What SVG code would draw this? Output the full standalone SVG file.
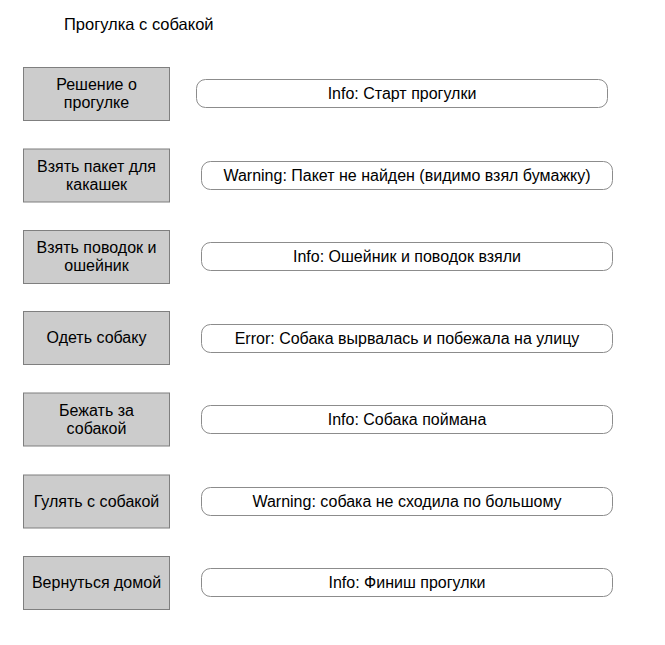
<svg xmlns="http://www.w3.org/2000/svg" width="665" height="645" viewBox="0 0 665 645">
<style>
.step rect{fill:#cccccc;stroke:#7f7f7f;stroke-width:1}
.log rect{fill:#ffffff;stroke:#8c8c8c;stroke-width:1}
text{font-family:"Liberation Sans",Arial,sans-serif;font-size:16px;fill:#000;text-anchor:middle}
.title{font-size:16.5px;text-anchor:start}
</style>
<rect width="665" height="645" fill="#ffffff"/>
<text class="title" x="64" y="30">Прогулка с собакой</text>
<g id="connectors"></g>
<g id="step1" class="step"><rect x="23.5" y="67.5" width="146" height="53"/><text x="96.5" y="90">Решение о</text><text x="96.5" y="108">прогулке</text></g>
<g id="step2" class="step"><rect x="23.5" y="149" width="146" height="53"/><text x="96.5" y="171.5">Взять пакет для</text><text x="96.5" y="189.5">какашек</text></g>
<g id="step3" class="step"><rect x="23.5" y="230.5" width="146" height="53"/><text x="96.5" y="253">Взять поводок и</text><text x="96.5" y="271">ошейник</text></g>
<g id="step4" class="step"><rect x="23.5" y="311.5" width="146" height="53"/><text x="96.5" y="343">Одеть собаку</text></g>
<g id="step5" class="step"><rect x="23.5" y="393" width="146" height="53"/><text x="96.5" y="415.5">Бежать за</text><text x="96.5" y="433.5">собакой</text></g>
<g id="step6" class="step"><rect x="23.5" y="475" width="146" height="53"/><text x="96.5" y="506.5">Гулять с собакой</text></g>
<g id="step7" class="step"><rect x="23.5" y="556.5" width="146" height="53"/><text x="96.5" y="588">Вернуться домой</text></g>
<g id="log1" class="log"><rect x="196.5" y="79.5" width="411" height="28" rx="9"/><text x="402" y="99">Info: Старт прогулки</text></g>
<g id="log2" class="log"><rect x="201.5" y="161.5" width="411" height="28" rx="9"/><text x="407" y="181">Warning: Пакет не найден (видимо взял бумажку)</text></g>
<g id="log3" class="log"><rect x="201.5" y="242.5" width="411" height="28" rx="9"/><text x="407" y="262">Info: Ошейник и поводок взяли</text></g>
<g id="log4" class="log"><rect x="201.5" y="324.5" width="411" height="28" rx="9"/><text x="407" y="344">Error: Собака вырвалась и побежала на улицу</text></g>
<g id="log5" class="log"><rect x="201.5" y="405.5" width="411" height="28" rx="9"/><text x="407" y="425">Info: Собака поймана</text></g>
<g id="log6" class="log"><rect x="201.5" y="487.5" width="411" height="28" rx="9"/><text x="407" y="507">Warning: собака не сходила по большому</text></g>
<g id="log7" class="log"><rect x="201.5" y="568.5" width="411" height="28" rx="9"/><text x="407" y="588">Info: Финиш прогулки</text></g>
</svg>
